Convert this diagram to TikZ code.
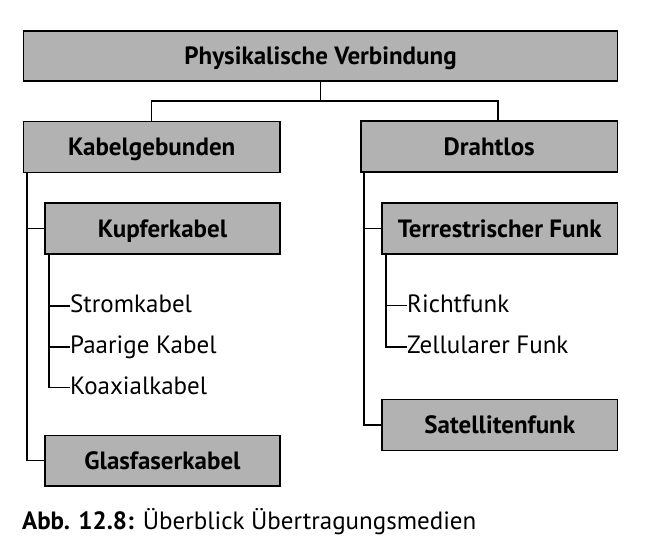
\documentclass[tikz,border=0pt]{standalone}
\usepackage{fontspec}
\setmainfont{PT Sans}
\usetikzlibrary{calc}
\definecolor{boxgray}{RGB}{178,178,178}
\begin{document}
\begin{tikzpicture}[x=1pt,y=-1pt,
  font=\fontsize{25pt}{30pt}\selectfont,
  box/.style={draw=black, line width=1.8pt, fill=boxgray, inner sep=0pt,
    minimum height=51pt, text height=17.3pt, text depth=0pt, font=\fontsize{25pt}{30pt}\selectfont\bfseries},
  item/.style={inner sep=0pt, anchor=west, text height=17.3pt, text depth=3.8pt},
  conn/.style={draw=black, line width=1.4pt}]
\useasboundingbox (0,0) rectangle (663,557);
% boxes
\node[box, minimum width=594pt, minimum height=50pt] (top) at (320.5,56) {Physikalische Verbindung};
\node[box, minimum width=256.5pt] (kabel) at (151.75,147) {Kabelgebunden};
\node[box, minimum width=256.5pt] (draht) at (489.25,146.5) {Drahtlos};
\node[box, minimum width=235pt] (kupfer) at (162.5,228.7) {Kupferkabel};
\node[box, minimum width=235pt, minimum height=50.5pt] (glas) at (162.5,460.75) {Glasfaserkabel};
\node[box, minimum width=235.5pt] (terr) at (499.75,228.7) {Terrestrischer Funk};
\node[box, minimum width=235.5pt] (sat) at (499.75,425) {Satellitenfunk};
% items
\node[item] (strom) at (70,306) {Stromkabel};
\node[item] (paar) at (70,347) {Paarige Kabel};
\node[item] (koax) at (70,387.5) {Koaxialkabel};
\node[item] (richt) at (407,305.5) {Richtfunk};
\node[item] (zell) at (407,347) {Zellularer Funk};
% caption
\node[anchor=base west, inner sep=0pt] (cap) at (22,529.5) {\textbf{Abb. 12.8:} Überblick Übertragungsmedien};
% coordinates
\coordinate (hub) at ($(top.south)+(0,19)$);
\coordinate (kt) at ($(kabel.south west)+(4.5,0)$);
\coordinate (dt) at ($(draht.south west)+(4,0)$);
\coordinate (kst) at ($(kupfer.south west)+(5,0)$);
\coordinate (tst) at ($(terr.south west)+(5,0)$);
\coordinate (dn) at ($(draht.north west)+(138,0)$);
% connectors
\draw[conn] (top.south) -- (hub);
\draw[conn] (kabel.north) |- (hub) -| (dn);
\draw[conn] (kt) |- (glas.west);
\draw[conn] (kupfer.west) -- (kupfer.west -| kt);
\draw[conn] (dt) |- (sat.west);
\draw[conn] (terr.west) -- (terr.west -| dt);
\draw[conn] (kst) |- (koax.west);
\draw[conn] (strom.west) -- (strom.west -| kst);
\draw[conn] (paar.west) -- (paar.west -| kst);
\draw[conn] (tst) |- (zell.west);
\draw[conn] (richt.west) -- (richt.west -| tst);
\end{tikzpicture}
\end{document}
